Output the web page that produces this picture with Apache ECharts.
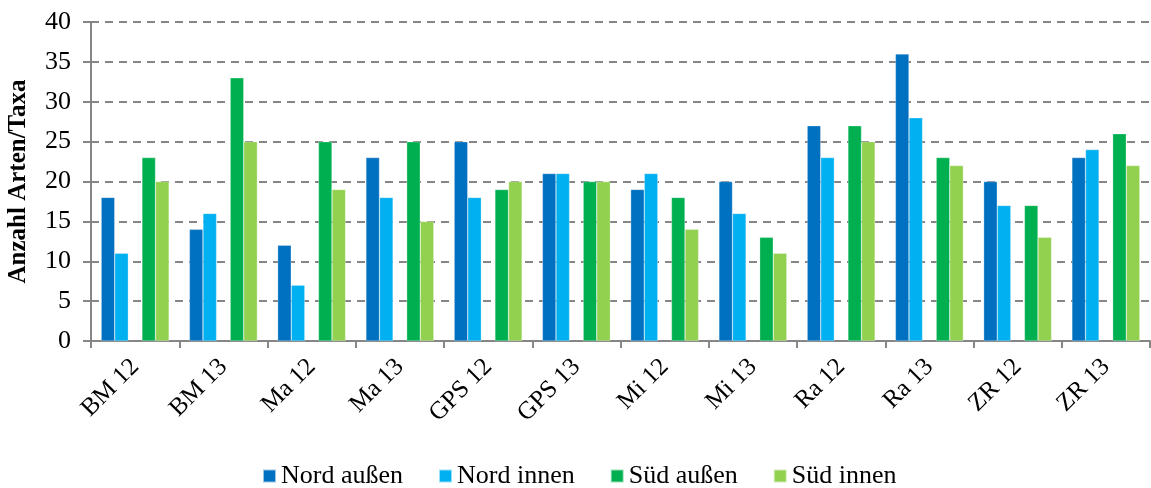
<!DOCTYPE html>
<html>
<head>
<meta charset="utf-8">
<style>
    html, body { margin: 0; padding: 0; background: #fff; }
    #chart { width: 1151px; height: 488px; }
</style>
<script src="https://cdn.jsdelivr.net/npm/echarts@6/dist/echarts.min.js"></script>
</head>
<body>
<div id="chart"></div>
<script>
    // categories and values
    var categories = ["BM 12", "BM 13", "Ma 12", "Ma 13", "GPS 12", "GPS 13", "Mi 12", "Mi 13", "Ra 12", "Ra 13", "ZR 12", "ZR 13"];
    var nordAussen = [18, 14, 12, 23, 25, 21, 19, 20, 27, 36, 20, 23];
    var nordInnen = [11, 16, 7, 18, 18, 21, 21, 16, 23, 28, 17, 24];
    var suedAussen = [23, 33, 25, 25, 19, 20, 18, 13, 27, 23, 17, 26];
    var suedInnen = [20, 25, 19, 15, 20, 20, 14, 11, 25, 22, 13, 22];
    var yTicks = [0, 5, 10, 15, 20, 25, 30, 35, 40];

    var font = "'Liberation Serif', 'DejaVu Serif', serif";
    var axisGrey = "#868686";

    function bar(name, data, color) {
        return {
            name: name,
            type: "bar",
            data: data,
            barGap: 0,
            barCategoryGap: "23%",
            itemStyle: { color: color, borderColor: "rgba(255,255,255,0.6)", borderWidth: 0.5 }
        };
    }

    var chart = echarts.init(document.getElementById("chart"));
    var option = {
        animation: false,
        textStyle: { fontFamily: font },
        legend: {
            data: ["Nord außen", "Nord innen", "Süd außen", "Süd innen"],
            top: 458,
            left: 257,
            itemWidth: 13,
            itemHeight: 13,
            itemGap: 35,
            itemTextGap: 6,
            icon: "rect",
            textStyle: { fontFamily: font, fontSize: 26, color: "#000" }
        },
        grid: {
            left: 91,
            right: 1,
            top: 22,
            bottom: 147,
            containLabel: false,
            outerBoundsMode: "none"
        },
        xAxis: {
            type: "category",
            data: categories,
            axisLine: { lineStyle: { color: axisGrey, width: 2 } },
            axisTick: { show: true, length: 7, lineStyle: { color: axisGrey, width: 2 } },
            axisLabel: {
                rotate: 45,
                fontFamily: font,
                fontSize: 25,
                color: "#000",
                margin: 22
            }
        },
        yAxis: {
            type: "value",
            min: yTicks[0],
            max: yTicks[yTicks.length - 1],
            interval: 5,
            name: "Anzahl Arten/Taxa",
            nameLocation: "middle",
            nameGap: 60,
            nameTextStyle: { fontFamily: font, fontSize: 25, fontWeight: "bold", color: "#000" },
            axisLine: { show: true, lineStyle: { color: axisGrey, width: 2 } },
            axisTick: { show: true, length: 8, lineStyle: { color: axisGrey, width: 2 } },
            axisLabel: { fontFamily: font, fontSize: 26, color: "#000", margin: 20 },
            splitLine: { show: true, lineStyle: { color: axisGrey, width: 2, type: [8, 6] } }
        },
        series: [
            bar("Nord außen", nordAussen, "#0070C0"),
            bar("Nord innen", nordInnen, "#00B0F0"),
            // empty slot between Nord and Süd
            bar("", [], "transparent"),
            bar("Süd außen", suedAussen, "#00B050"),
            bar("Süd innen", suedInnen, "#92D050")
        ]
    };
    chart.setOption(option);
</script>
</body>
</html>
